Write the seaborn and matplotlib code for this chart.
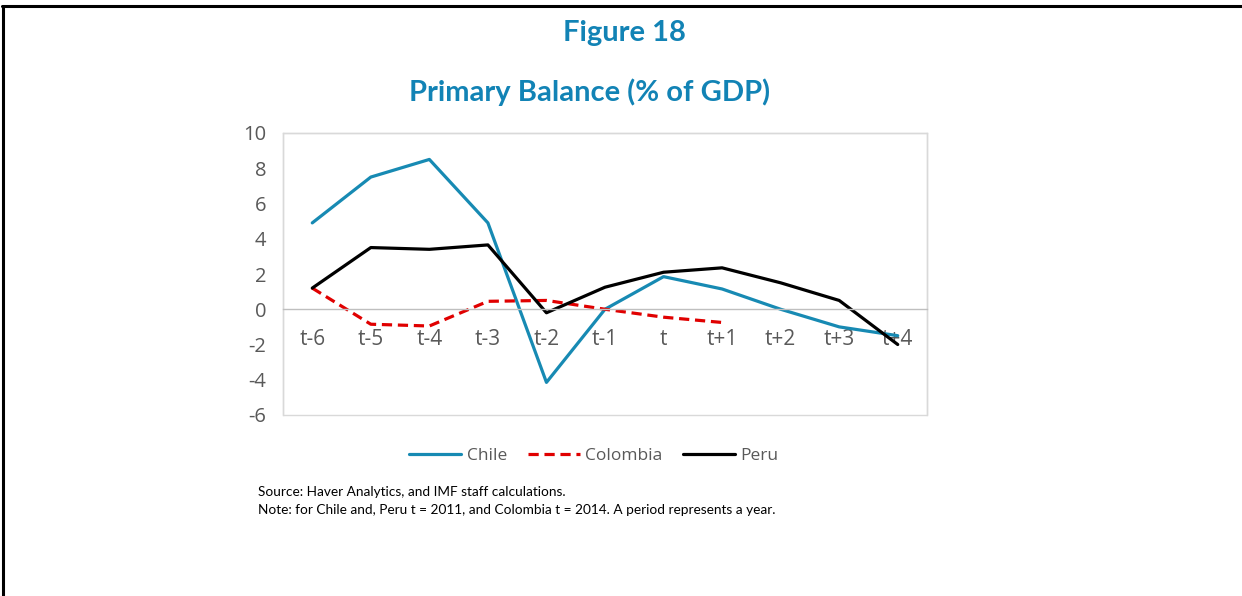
import matplotlib
matplotlib.use("Agg")
import matplotlib.pyplot as plt
import seaborn as sns
import pandas as pd
import numpy as np
from matplotlib.patches import Rectangle
from matplotlib.lines import Line2D

periods = ["t-6", "t-5", "t-4", "t-3", "t-2", "t-1", "t", "t+1", "t+2", "t+3", "t+4"]
chile = [4.9, 7.5, 8.5, 4.9, -4.15, 0.0, 1.85, 1.15, 0.0, -1.0, -1.5]
colombia = [1.2, -0.85, -0.95, 0.45, 0.5, 0.0, -0.45, -0.75, None, None, None]
peru = [1.2, 3.5, 3.4, 3.65, -0.2, 1.25, 2.1, 2.35, 1.5, 0.5, -2.0]
y_ticks = [-6, -4, -2, 0, 2, 4, 6, 8, 10]

sns.set_theme(style="white")
plt.rcParams["font.family"] = ["Open Sans", "DejaVu Sans"]

blue = "#178ab3"
red = "#e00000"
title_col = "#1283b5"
grey_txt = "#595959"
LW = 2.3

rows = []
for name, vals in [("Chile", chile), ("Colombia", colombia), ("Peru", peru)]:
    for i, v in enumerate(vals):
        if v is not None:
            rows.append({"x": i, "val": v, "series": name})
df = pd.DataFrame(rows)

fig = plt.figure(figsize=(12.42, 5.96), dpi=100)
ax = fig.add_axes([283 / 1242, 1 - 415 / 596, (927 - 283) / 1242, (415 - 133) / 596])

palette = {"Chile": blue, "Colombia": red, "Peru": "black"}
for name in ["Chile", "Colombia", "Peru"]:
    sub = df[df.series == name]
    sns.lineplot(data=sub, x="x", y="val", ax=ax, color=palette[name],
                 linewidth=LW, legend=False, sort=False)
ax.lines[1].set_dashes([3.2, 1.8])

ax.set_xlim(-0.5, 10.5)
ax.set_ylim(-6, 10)
ax.set_yticks(y_ticks)
ax.set_yticklabels([str(v) for v in y_ticks])
ax.set_xticks(range(len(periods)))
ax.set_xticklabels(periods)
ax.set_xticks(np.arange(0.5, 10.5, 1.0), minor=True)
ax.tick_params(axis="x", which="major", length=0, pad=14, labelsize=15, labelcolor=grey_txt)
ax.tick_params(axis="x", which="minor", length=5, direction="in", color="#d9d9d9", width=1)
ax.tick_params(axis="y", which="major", length=5, direction="out", color="#d9d9d9", width=1,
               pad=7, labelsize=14.5, labelcolor=grey_txt)
ax.set_xlabel("")
ax.set_ylabel("")

ax.spines["bottom"].set_position(("data", 0))
ax.spines["bottom"].set_color("#bfbfbf")
ax.spines["bottom"].set_linewidth(1)
for s in ["left", "top", "right"]:
    ax.spines[s].set_color("#d9d9d9")
    ax.spines[s].set_linewidth(1)
ax.add_patch(Rectangle((0, 0), 1, 1, transform=ax.transAxes, fill=False,
                       ec="#d9d9d9", lw=1, clip_on=False, zorder=0))

# legend
handles = [Line2D([0], [0], color=blue, lw=LW),
           Line2D([0], [0], color=red, lw=LW, dashes=[3.2, 1.8]),
           Line2D([0], [0], color="black", lw=LW)]
leg = fig.legend(handles, ["Chile", "Colombia", "Peru"], loc="center",
                 bbox_to_anchor=(594 / 1242, 1 - 456 / 596), ncol=3, frameon=False,
                 handlelength=3.0, handletextpad=0.3, columnspacing=1.2, fontsize=12.5)
for t in leg.get_texts():
    t.set_color(grey_txt)

fig.text(624 / 1242, 1 - 33 / 596, "Figure 18", ha="center", va="center",
         fontsize=21, fontweight="bold", color=title_col, family=["Lato", "DejaVu Sans"])
fig.text(590 / 1242, 1 - 92 / 596, "Primary Balance (% of GDP)", ha="center", va="center",
         fontsize=21, fontweight="bold", color=title_col, family=["Lato", "DejaVu Sans"])

fig.text(258 / 1242, 1 - 492 / 596, "Source: Haver Analytics, and IMF staff calculations.",
         ha="left", va="center", fontsize=9.8, color="black", family=["Lato", "DejaVu Sans"])
fig.text(258 / 1242, 1 - 510 / 596,
         "Note: for Chile and, Peru t = 2011, and Colombia t = 2014. A period represents a year.",
         ha="left", va="center", fontsize=9.8, color="black", family=["Lato", "DejaVu Sans"])

# page frame
fig.add_artist(Line2D([2 / 1242, 1], [1 - 6 / 596, 1 - 6 / 596], transform=fig.transFigure,
                      color="black", lw=2.2))
fig.add_artist(Line2D([3 / 1242, 3 / 1242], [0, 1 - 6 / 596], transform=fig.transFigure,
                      color="black", lw=2.2))

fig.savefig("out.png", dpi=100)
